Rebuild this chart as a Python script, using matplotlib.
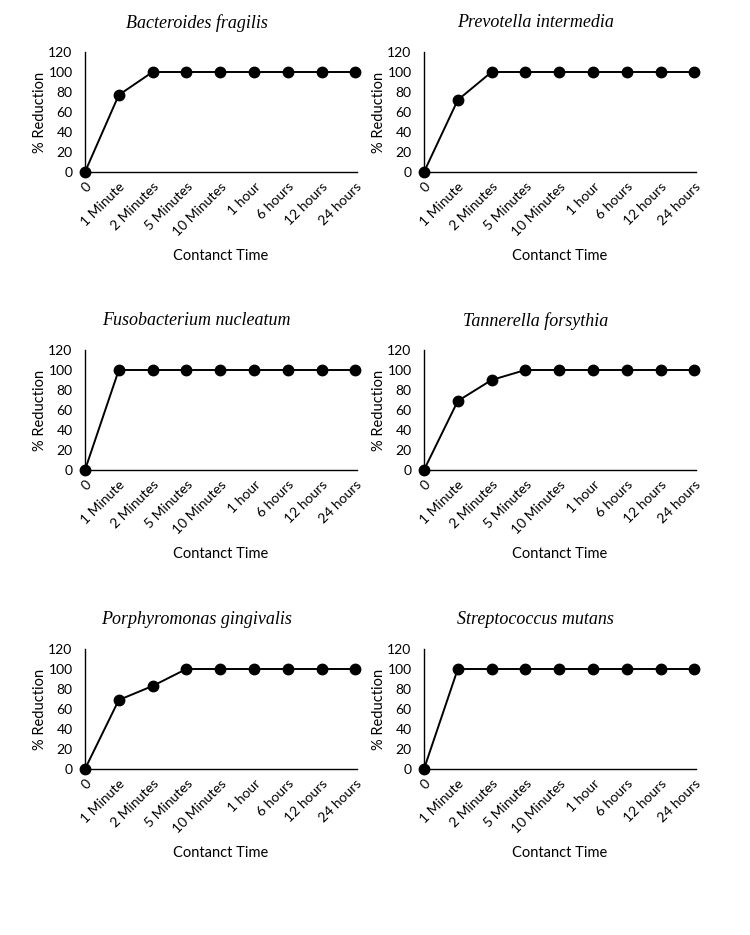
import matplotlib
matplotlib.use("Agg")
import matplotlib.pyplot as plt

# ---------------------------------------------------------------------------
# Data
# ---------------------------------------------------------------------------
contact_times = ["0", "1 Minute", "2 Minutes", "5 Minutes", "10 Minutes",
                 "1 hour", "6 hours", "12 hours", "24 hours"]

species = ["Bacteroides fragilis", "Prevotella intermedia",
           "Fusobacterium nucleatum", "Tannerella forsythia",
           "Porphyromonas gingivalis", "Streptococcus mutans"]

b_fragilis = [0, 77, 100, 100, 100, 100, 100, 100, 100]
p_intermedia = [0, 72, 100, 100, 100, 100, 100, 100, 100]
f_nucleatum = [0, 100, 100, 100, 100, 100, 100, 100, 100]
t_forsythia = [0, 69, 90, 100, 100, 100, 100, 100, 100]
p_gingivalis = [0, 69, 83, 100, 100, 100, 100, 100, 100]
s_mutans = [0, 100, 100, 100, 100, 100, 100, 100, 100]

series = [b_fragilis, p_intermedia, f_nucleatum,
          t_forsythia, p_gingivalis, s_mutans]

yticks = [0, 20, 40, 60, 80, 100, 120]

# ---------------------------------------------------------------------------
# Layout (pixels -> figure fractions)
# ---------------------------------------------------------------------------
W, H = 750, 935
col_x = [85, 424]          # px of y-axis line
row_y0 = [172, 470, 769]   # px of y=0 line
ax_w, ax_h = 272, 120

SANS = ["Lato", "DejaVu Sans"]
SERIF = ["Liberation Serif", "DejaVu Serif"]

fig = plt.figure(figsize=(W / 100, H / 100), dpi=100)

for i, (name, vals) in enumerate(zip(species, series)):
    r, c = divmod(i, 2)
    left = col_x[c] / W
    bottom = 1 - row_y0[r] / H
    ax = fig.add_axes([left, bottom, ax_w / W, ax_h / H])

    x = list(range(len(contact_times)))
    ax.plot(x, vals, color="black", lw=1.4, marker="o", ms=7.5,
            markerfacecolor="black", markeredgecolor="black", clip_on=False,
            zorder=3)

    ax.set_xlim(0, len(contact_times) - 1 + 0.05)
    ax.set_ylim(0, 120)
    ax.set_yticks(yticks)
    ax.set_xticks(x)
    ax.set_xticklabels(contact_times, rotation=45, ha="right",
                       rotation_mode="anchor", family=SANS, fontsize=10)
    for lab in ax.get_yticklabels():
        lab.set_family(SANS)
        lab.set_fontsize(10)
    ax.tick_params(axis="both", length=0)
    ax.tick_params(axis="y", pad=9)
    ax.tick_params(axis="x", pad=6)

    for s in ("top", "right"):
        ax.spines[s].set_visible(False)
    for s in ("left", "bottom"):
        ax.spines[s].set_linewidth(1.0)
        ax.spines[s].set_color("black")

    ax.set_xlabel("Contanct Time", family=SANS, fontsize=10.5, labelpad=8)
    ax.set_ylabel("% Reduction", family=SANS, fontsize=10.5, labelpad=1)

    ax.text(0.41, 1.245, name, transform=ax.transAxes, ha="center",
            va="center", family=SERIF, style="italic", fontsize=13)

fig.savefig("out.png", dpi=100)
